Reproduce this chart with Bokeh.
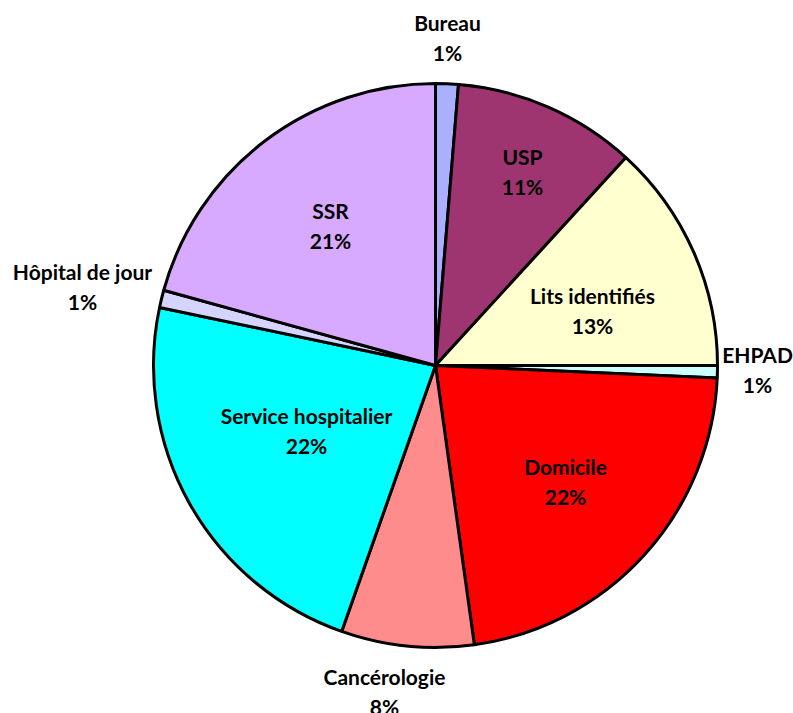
import math
from bokeh.plotting import figure
from bokeh.models import ColumnDataSource
from bokeh.core.properties import value
from bokeh.embed import file_html
from bokeh.resources import INLINE

# ---- data ----
categories = ["Bureau", "USP", "Lits identifiés", "EHPAD", "Domicile",
              "Cancérologie", "Service hospitalier", "Hôpital de jour", "SSR"]
shares = [1.3, 10.5, 13.2, 0.7, 22.1, 7.6, 22.9, 1.0, 20.7]
pct_labels = ["1%", "11%", "13%", "1%", "22%", "8%", "22%", "1%", "21%"]

# ---- style / layout ----
colors = ["#AAB0FF", "#9E3470", "#FFFFD0", "#CCFFFF", "#FF0000",
          "#FF8C8C", "#00FFFF", "#D4D4FF", "#D8AAFF"]
W, H = 793, 713
cx, cy, R = 435, 713 - 365, 282
# label anchor (page pixels) for the name line
label_pos = [(447, 22), (522, 156), (592, 295), (757, 354), (565, 466),
             (384, 676), (306, 415), (82, 271), (330, 210)]

total = sum(shares)
starts, ends = [], []
cum = 0.0
for s in shares:
    starts.append(math.pi / 2 - 2 * math.pi * cum / total)
    cum += s
    ends.append(math.pi / 2 - 2 * math.pi * cum / total)

p = figure(width=W, height=H, x_range=(0, W), y_range=(0, H),
           output_backend="svg", toolbar_location=None, min_border=0)
p.axis.visible = False
p.grid.visible = False
p.outline_line_color = None
p.background_fill_color = "white"

src = ColumnDataSource(dict(cat=categories, start=starts, end=ends, color=colors))
p.wedge(x=cx, y=cy, radius=R, start_angle="start", end_angle="end",
        direction="clock", fill_color="color", line_color="black",
        line_width=3, source=src)

lx = [q[0] for q in label_pos]
ly_name = [H - q[1] for q in label_pos]
ly_pct = [y - 30 for y in ly_name]
ts = ColumnDataSource(dict(x=lx, yn=ly_name, yp=ly_pct, name=categories, pct=pct_labels))
for ycol, tcol in (("yn", "name"), ("yp", "pct")):
    p.text(x="x", y=ycol, text=tcol, source=ts, text_font=value("Lato"),
           text_font_style="bold", text_font_size="21px",
           text_align="center", text_baseline="middle", text_color="black")

open("out.html", "w").write(file_html(p, INLINE))
